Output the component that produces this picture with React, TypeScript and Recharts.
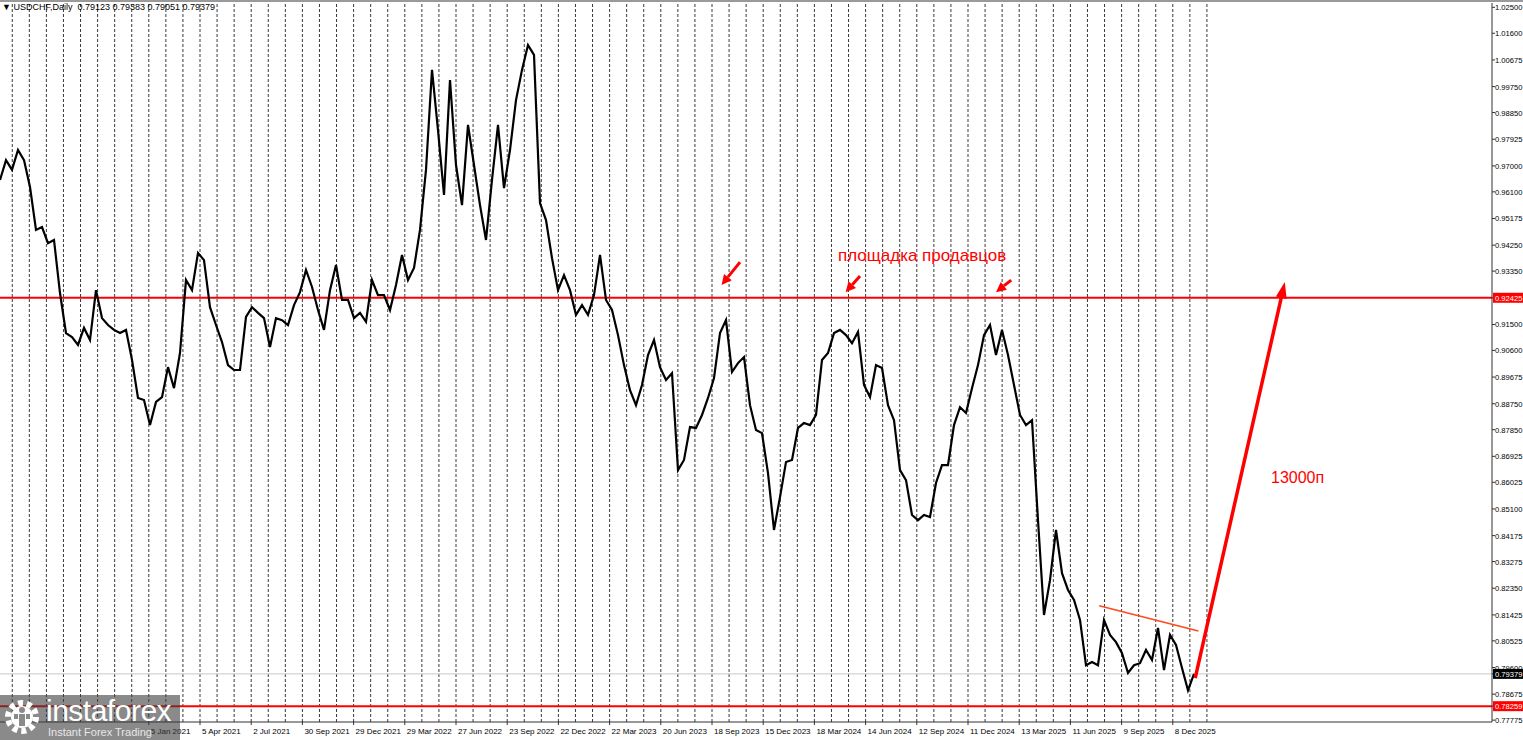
import React from "react"
import {
  ComposedChart,
  Line,
  XAxis,
  YAxis,
  ReferenceLine,
} from "recharts"

const closes2020 = [
  0.9651, 0.972, 0.9686, 0.9755, 0.972, 0.9627, 0.9478, 0.9488, 0.9432, 0.9443,
  0.9259, 0.912, 0.9106, 0.9079, 0.9138, 0.9096, 0.9269, 0.9172, 0.9148, 0.9131,
  0.912, 0.9131, 0.9027, 0.8895, 0.8888,
]
const closes2021 = [
  0.8801, 0.8881, 0.8898, 0.9002, 0.8929, 0.9051, 0.9304, 0.9269, 0.9398, 0.9373,
  0.921, 0.9148, 0.9089, 0.9009, 0.8992, 0.8992, 0.9176, 0.921, 0.919, 0.9172,
  0.9072, 0.9172, 0.9165, 0.9148, 0.9217, 0.9262, 0.9339, 0.928, 0.92, 0.9131,
  0.9269, 0.9356, 0.9235, 0.9235,
]
const closes2022 = [
  0.9172, 0.919, 0.9159, 0.9304, 0.9252, 0.9252, 0.92, 0.9287, 0.9391, 0.9304,
  0.9346, 0.9478, 0.9686, 1.0033, 0.9824, 0.9599, 0.9998, 0.9703, 0.9564, 0.9842,
  0.9703, 0.9564, 0.9443, 0.9651, 0.9842, 0.9623, 0.9755, 0.9928, 1.0033, 1.0119,
  1.0085, 0.9571, 0.9512, 0.938,
]
const closes2023 = [
  0.9269, 0.9321, 0.9269, 0.9183, 0.9217, 0.9183, 0.9252, 0.9391, 0.9235, 0.92,
  0.9113, 0.9009, 0.8922, 0.887, 0.894, 0.9044, 0.9096, 0.9002, 0.8957, 0.8981,
  0.8645, 0.868, 0.8794, 0.8791, 0.8836, 0.8895, 0.8964, 0.912, 0.9165, 0.8985,
  0.9016, 0.9037, 0.887, 0.8784,
]
const closes2024 = [
  0.8773, 0.8634, 0.8437, 0.8551, 0.8673, 0.868, 0.8791, 0.8808, 0.8801, 0.8836,
  0.9027, 0.9051, 0.912, 0.9131, 0.9113, 0.9085, 0.9124, 0.894, 0.8898, 0.9009,
  0.8999, 0.887, 0.8818, 0.8645, 0.861, 0.8489, 0.8471, 0.8489, 0.8482, 0.86,
  0.8662, 0.8662, 0.8801, 0.8863,
]
const closes2025 = [
  0.8843, 0.8929, 0.9009, 0.9113, 0.9148, 0.9044, 0.9131, 0.9044, 0.894, 0.8836,
  0.8801, 0.8818, 0.8471, 0.8142, 0.8263, 0.8437, 0.8287, 0.8229, 0.8194, 0.8125,
  0.7968, 0.7979, 0.7968, 0.8125, 0.8073, 0.8048, 0.801, 0.7941, 0.7968, 0.7975,
  0.8021, 0.7986, 0.8097, 0.7951, 0.8073, 0.8038, 0.7958, 0.7881, 0.7938,
]

const STEP_DAYS = 7.5
const QUARTER_DAYS = 64
const FIRST_TICK_DAY = 186

const xLabels = [
  "5 Jan 2021", "5 Apr 2021", "2 Jul 2021",
  "30 Sep 2021", "29 Dec 2021", "29 Mar 2022", "27 Jun 2022", "23 Sep 2022",
  "22 Dec 2022", "22 Mar 2023", "20 Jun 2023", "18 Sep 2023", "15 Dec 2023",
  "18 Mar 2024", "14 Jun 2024", "12 Sep 2024", "11 Dec 2024", "13 Mar 2025",
  "11 Jun 2025", "9 Sep 2025", "8 Dec 2025",
]

const yTicks = [
  1.025, 1.016, 1.00675, 0.9975, 0.9885, 0.97925, 0.97, 0.961, 0.95175, 0.9425,
  0.9335, 0.92425, 0.915, 0.906, 0.89675, 0.8875, 0.8785, 0.86925, 0.86025,
  0.851, 0.84175, 0.83275, 0.8235, 0.81425, 0.80525, 0.796, 0.79379, 0.78675,
  0.78259, 0.77775,
]

const SELLERS_LEVEL = 0.92425
const SUPPORT_LEVEL = 0.78259
const LAST_PRICE = 0.79379

const markers = [
  { v: SELLERS_LEVEL, color: "#ff0000" },
  { v: LAST_PRICE, color: "#000000" },
  { v: SUPPORT_LEVEL, color: "#ff0000" },
]

// trend line and arrows (day, price)
const trendLine = [
  { x: 1374, y: 0.8174 },
  { x: 1498, y: 0.8087 },
]
const targetArrow = [
  { x: 1494, y: 0.7923 },
  { x: 1606, y: 0.9297 },
]
const peakArrows = [
  [{ x: 925, y: 0.9366 }, { x: 902, y: 0.9287 }],
  [{ x: 1075, y: 0.9318 }, { x: 1057, y: 0.9262 }],
  [{ x: 1264, y: 0.9304 }, { x: 1245, y: 0.9262 }],
]

const allCloses = [
  ...closes2020,
  ...closes2021,
  ...closes2022,
  ...closes2023,
  ...closes2024,
  ...closes2025,
]
const data = allCloses.map((p, i) => ({ d: i * STEP_DAYS, p }))

const xTicks = xLabels.map((_, k) => FIRST_TICK_DAY + k * QUARTER_DAYS)
const monthLines: number[] = []
for (let k = -8; k <= 62; k++) {
  monthLines.push(FIRST_TICK_DAY + (k * QUARTER_DAYS) / 3)
}

const FONT = "'Liberation Sans', Arial, sans-serif"

function XTick(props: any) {
  const { x, y, payload } = props
  const idx = Math.round((payload.value - FIRST_TICK_DAY) / QUARTER_DAYS)
  return (
    <text x={x + 2} y={y + 7} fontSize={8} fill="#000" fontFamily={FONT} textAnchor="start">
      {xLabels[idx]}
    </text>
  )
}

function YTick(props: any) {
  const { x, y, payload } = props
  const v = payload.value
  const mark = markers.find((m) => Math.abs(m.v - v) < 1e-7)
  if (mark) {
    return (
      <g>
        <rect x={x - 3} y={y - 5} width={32} height={10} fill={mark.color} />
        <text x={x - 1} y={y + 3} fontSize={7.6} fill="#fff" fontFamily={FONT}>
          {v.toFixed(5)}
        </text>
      </g>
    )
  }
  return (
    <text x={x - 1} y={y + 3} fontSize={7.6} fill="#000" fontFamily={FONT}>
      {v.toFixed(5)}
    </text>
  )
}

function arrowShape(width: number, headLen: number, headW: number, color: string) {
  return (props: any) => {
    const { x1, y1, x2, y2 } = props
    const a = Math.atan2(y2 - y1, x2 - x1)
    const bx = x2 - headLen * Math.cos(a)
    const by = y2 - headLen * Math.sin(a)
    const nx = -Math.sin(a) * (headW / 2)
    const ny = Math.cos(a) * (headW / 2)
    return (
      <g>
        <line x1={x1} y1={y1} x2={bx} y2={by} stroke={color} strokeWidth={width} />
        <polygon
          points={`${x2},${y2} ${bx + nx},${by + ny} ${bx - nx},${by - ny}`}
          fill={color}
        />
      </g>
    )
  }
}

function Logo() {
  return (
    <div
      style={{
        position: "absolute",
        left: 0,
        top: 695,
        width: 180,
        height: 45,
        background: "rgba(60,60,60,0.6)",
        fontFamily: FONT,
      }}
    >
      <svg width={44} height={45} style={{ position: "absolute", left: 2, top: 0 }}>
        <circle cx={20} cy={22} r={14} fill="none" stroke="#fff" strokeWidth={6} strokeDasharray="5 3.8" />
        <circle cx={20} cy={22} r={11} fill="#fff" />
        <circle cx={20} cy={15} r={3} fill="#8a8a8a" />
        <rect x={17} y={19} width={6} height={12} fill="#8a8a8a" />
        <rect x={12} y={19} width={4} height={5} fill="#8a8a8a" />
        <rect x={24} y={19} width={4} height={5} fill="#8a8a8a" />
      </svg>
      <div
        style={{
          position: "absolute",
          left: 46,
          top: 2,
          fontSize: 30,
          lineHeight: "27px",
          color: "#fff",
          letterSpacing: -0.5,
        }}
      >
        instaforex
      </div>
      <div
        style={{
          position: "absolute",
          left: 48,
          top: 31,
          fontSize: 11,
          lineHeight: "12px",
          color: "#e8e8e8",
        }}
      >
        Instant Forex Trading
      </div>
    </div>
  )
}

export default function App() {
  return (
    <div style={{ position: "relative", width: 1523, height: 740, background: "#fff", overflow: "hidden" }}>
      <style>{`body{margin:0}`}</style>
      <div style={{ position: "absolute", left: 0, top: 0, width: 1523, height: 2, background: "#9a9a9a" }} />
      <ComposedChart
        width={1523}
        height={740}
        data={data}
        margin={{ top: 3, right: 0, left: 0, bottom: 0 }}
      >
        <XAxis
          dataKey="d"
          type="number"
          domain={[0, 1865]}
          ticks={xTicks}
          tick={<XTick />}
          tickSize={3}
          height={18}
          interval={0}
          stroke="#333"
          allowDataOverflow
        />
        <YAxis
          orientation="right"
          type="number"
          domain={[0.7771, 1.0265]}
          ticks={yTicks}
          tick={<YTick />}
          tickSize={3}
          tickMargin={1}
          width={31}
          interval={0}
          stroke="#333"
          allowDataOverflow
        />
        {monthLines.map((m) => (
          <ReferenceLine key={m} x={m} stroke="#3a3a3a" strokeDasharray="3 2" strokeWidth={1} />
        ))}
        <ReferenceLine y={LAST_PRICE} stroke="#c8c8c8" strokeWidth={1} />
        <ReferenceLine y={SELLERS_LEVEL} stroke="#ff0000" strokeWidth={2} />
        <ReferenceLine y={SUPPORT_LEVEL} stroke="#ff0000" strokeWidth={2} />
        <Line
          dataKey="p"
          type="linear"
          stroke="#000"
          strokeWidth={2.2}
          dot={false}
          isAnimationActive={false}
        />
        <ReferenceLine segment={trendLine} stroke="#ff4a1c" strokeWidth={1.5} />
        <ReferenceLine segment={targetArrow} shape={arrowShape(3.5, 16, 11, "#ff0000")} />
        {peakArrows.map((seg, i) => (
          <ReferenceLine key={i} segment={seg} shape={arrowShape(3, 10, 10, "#ff0000")} />
        ))}
      </ComposedChart>
      <div
        style={{
          position: "absolute",
          left: 2,
          top: 2,
          fontFamily: FONT,
          fontSize: 9,
          color: "#000",
          whiteSpace: "pre",
        }}
      >
        {"\u25BC USDCHF,Daily  0.79123 0.79383 0.79051 0.79379"}
      </div>
      <div
        style={{
          position: "absolute",
          left: 838,
          top: 246,
          fontFamily: FONT,
          fontSize: 17,
          color: "#ff0000",
          whiteSpace: "nowrap",
        }}
      >
        площадка продавцов
      </div>
      <div
        style={{
          position: "absolute",
          left: 1271,
          top: 469,
          fontFamily: FONT,
          fontSize: 16,
          color: "#ff0000",
        }}
      >
        13000п
      </div>
      <Logo />
    </div>
  )
}
